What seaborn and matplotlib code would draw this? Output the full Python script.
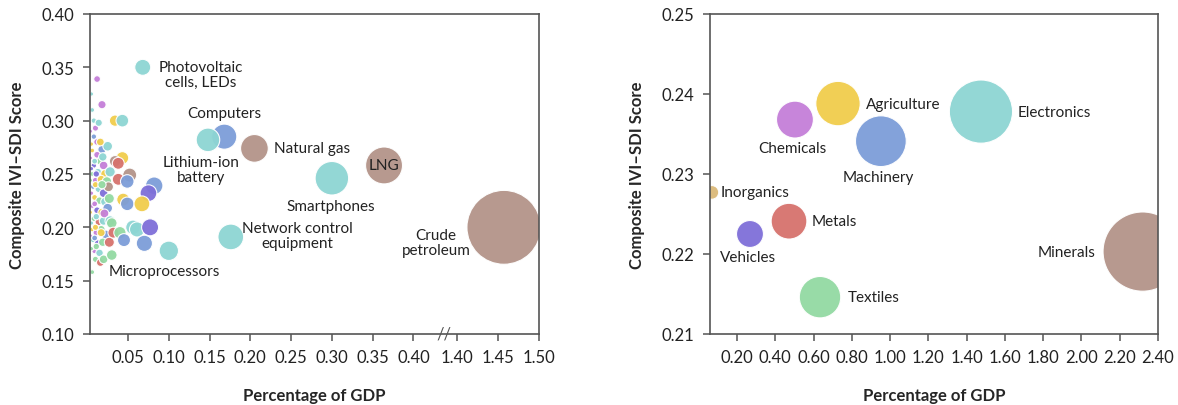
import pandas as pd
import matplotlib.pyplot as plt
import seaborn as sns

# sector colours
palette = {
    "Electronics": "#8dd5d3",
    "Machinery": "#7c9dd8",
    "Minerals": "#b39489",
    "Agriculture": "#f1cd4c",
    "Chemicals": "#c47fd8",
    "Metals": "#d6726d",
    "Vehicles": "#7e6fd8",
    "Textiles": "#93d9a2",
    "Inorganics": "#dbb978",
}

# ---- left panel: products ----
left_x = [
    0.005, 0.006, 0.008, 0.012, 0.018, 0.010, 0.014, 0.008, 0.012, 0.018,
    0.025, 0.006, 0.012, 0.016, 0.008, 0.020, 0.006, 0.013, 0.022, 0.028,
    0.010, 0.017, 0.024, 0.007, 0.014, 0.020, 0.026, 0.009, 0.015, 0.022,
    0.006, 0.012, 0.018, 0.025, 0.008, 0.014, 0.020, 0.006, 0.011, 0.017,
    0.023, 0.007, 0.013, 0.019, 0.009, 0.015, 0.010, 0.016, 0.020, 0.006,
    0.004, 0.005, 0.004, 0.005, 0.004, 0.005, 0.004, 0.005, 0.004, 0.005,
    0.009, 0.011, 0.010, 0.009, 0.011, 0.010, 0.009, 0.011, 0.016, 0.019,
    0.018, 0.021, 0.017, 0.027, 0.028, 0.027,
    0.034, 0.043, 0.043, 0.034, 0.038, 0.052, 0.038, 0.049, 0.082, 0.075,
    0.044, 0.049, 0.067, 0.030, 0.032, 0.040, 0.045, 0.056, 0.061, 0.077,
    0.070, 0.030,
    0.068, 0.168, 0.148, 0.205, 0.176, 0.100, 0.300, 0.364, 1.457,
]
left_y = [
    0.325, 0.310, 0.300, 0.339, 0.315, 0.293, 0.298, 0.285, 0.280, 0.273,
    0.276, 0.272, 0.268, 0.262, 0.258, 0.258, 0.250, 0.252, 0.250, 0.252,
    0.244, 0.245, 0.243, 0.238, 0.236, 0.232, 0.238, 0.228, 0.225, 0.224,
    0.220, 0.216, 0.214, 0.218, 0.208, 0.205, 0.206, 0.198, 0.195, 0.198,
    0.193, 0.188, 0.185, 0.186, 0.178, 0.176, 0.170, 0.167, 0.170, 0.158,
    0.290, 0.278, 0.265, 0.255, 0.244, 0.232, 0.214, 0.204, 0.192, 0.180,
    0.262, 0.250, 0.240, 0.222, 0.210, 0.200, 0.190, 0.182, 0.280, 0.266,
    0.240, 0.213, 0.195, 0.227, 0.206, 0.186,
    0.300, 0.300, 0.265, 0.262, 0.260, 0.249, 0.245, 0.243, 0.239, 0.232,
    0.226, 0.222, 0.222, 0.204, 0.195, 0.195, 0.188, 0.200, 0.198, 0.200,
    0.185, 0.174,
    0.350, 0.285, 0.282, 0.274, 0.191, 0.178, 0.246, 0.258, 0.200,
]
left_sector = [
    "Electronics", "Electronics", "Electronics", "Chemicals", "Chemicals",
    "Chemicals", "Electronics", "Machinery", "Chemicals", "Machinery",
    "Electronics", "Agriculture", "Chemicals", "Textiles", "Vehicles",
    "Chemicals", "Textiles", "Electronics", "Agriculture", "Electronics",
    "Chemicals", "Agriculture", "Textiles", "Machinery", "Electronics",
    "Vehicles", "Minerals", "Agriculture", "Textiles", "Electronics",
    "Chemicals", "Vehicles", "Agriculture", "Machinery", "Textiles",
    "Metals", "Electronics", "Agriculture", "Chemicals", "Textiles",
    "Machinery", "Electronics", "Vehicles", "Textiles", "Chemicals",
    "Electronics", "Textiles", "Metals", "Textiles", "Textiles",
    "Chemicals", "Agriculture", "Chemicals", "Vehicles", "Textiles",
    "Chemicals", "Agriculture", "Electronics", "Chemicals", "Textiles",
    "Electronics", "Vehicles", "Agriculture", "Chemicals", "Electronics",
    "Agriculture", "Machinery", "Textiles", "Agriculture", "Electronics",
    "Textiles", "Chemicals", "Agriculture", "Textiles", "Electronics",
    "Metals",
    "Agriculture", "Electronics", "Agriculture", "Minerals", "Metals",
    "Minerals", "Metals", "Machinery", "Machinery", "Vehicles",
    "Agriculture", "Machinery", "Agriculture", "Textiles", "Metals",
    "Textiles", "Machinery", "Electronics", "Electronics", "Vehicles",
    "Machinery", "Textiles",
    "Electronics", "Machinery", "Electronics", "Minerals", "Electronics",
    "Electronics", "Electronics", "Minerals", "Minerals",
]

# ---- right panel: sectors ----
right_sector = ["Inorganics", "Vehicles", "Metals", "Chemicals", "Agriculture",
                "Machinery", "Textiles", "Electronics", "Minerals"]
right_x = [0.069, 0.268, 0.472, 0.503, 0.728, 0.952, 0.634, 1.475, 2.32]
right_y = [0.2277, 0.2225, 0.2241, 0.2368, 0.2388, 0.2341, 0.2146, 0.2378, 0.2203]

left_ticks = [0.05, 0.10, 0.15, 0.20, 0.25, 0.30, 0.35, 0.40, 1.40, 1.45, 1.50]
right_ticks = [0.20, 0.40, 0.60, 0.80, 1.00, 1.20, 1.40, 1.60, 1.80, 2.00, 2.20, 2.40]

GAP = 0.946  # broken axis: values above 1 are shifted left by this amount


def squash(v):
    return v - GAP if v > 1 else v


left = pd.DataFrame({"gdp": left_x, "score": left_y, "sector": left_sector})
left["xp"] = left["gdp"].apply(squash)
right = pd.DataFrame({"gdp": right_x, "score": right_y, "sector": right_sector})

sns.set_style("ticks")
plt.rcParams["font.family"] = ["Lato", "DejaVu Sans"]

fig = plt.figure(figsize=(11.78, 4.06), dpi=100)
ax1 = fig.add_axes([0.0764, 0.1749, 0.3811, 0.7882])
ax2 = fig.add_axes([0.6027, 0.1749, 0.3803, 0.7882])

lmax = left["gdp"].max()
sns.scatterplot(data=left, x="xp", y="score", hue="sector", palette=palette,
                size="gdp", sizes=(0, 1941 * lmax), size_norm=(0, lmax),
                edgecolor="white", linewidth=0.8, alpha=0.95, legend=False, ax=ax1)

rmax = right["gdp"].max()
sns.scatterplot(data=right, x="gdp", y="score", hue="sector", palette=palette,
                size="gdp", sizes=(0, 1402 * rmax), size_norm=(0, rmax),
                edgecolor="white", linewidth=0.8, alpha=0.95, legend=False, ax=ax2)

# left axes
ax1.set_xlim(0.0033, 1.50 - GAP)
ax1.set_ylim(0.10, 0.40)
ax1.set_xticks([squash(t) for t in left_ticks])
ax1.set_xticklabels([f"{t:.2f}" for t in left_ticks])
ax1.set_yticks([0.10, 0.15, 0.20, 0.25, 0.30, 0.35, 0.40])
ax1.yaxis.set_major_formatter(plt.FormatStrFormatter("%.2f"))
ax1.text(0.437, 0.10, "//", ha="center", va="center", fontsize=12,
         color="#555555", clip_on=False)

# right axes
ax2.set_xlim(0.059, 2.40)
ax2.set_ylim(0.21, 0.25)
ax2.set_xticks(right_ticks)
ax2.set_xticklabels([f"{t:.2f}" for t in right_ticks])
ax2.set_yticks([0.21, 0.22, 0.23, 0.24, 0.25])
ax2.yaxis.set_major_formatter(plt.FormatStrFormatter("%.2f"))

for ax in (ax1, ax2):
    for s in ax.spines.values():
        s.set_color("#555555")
        s.set_linewidth(1.2)
    ax.tick_params(colors="#555555", labelcolor="#222222", labelsize=12, length=5,
                   width=1.1, pad=6)
    ax.set_xlabel("Percentage of GDP", fontsize=12, fontweight="bold", labelpad=16)
    ax.set_ylabel("Composite IVI\u2013SDI Score", fontsize=12, fontweight="bold",
                  labelpad=12)

fs = 11
txt = dict(fontsize=fs, color="#222222", linespacing=1.1)
ax1.text(0.139, 0.343, "Photovoltaic\ncells, LEDs", ha="center", va="center", **txt)
ax1.text(0.168, 0.307, "Computers", ha="center", va="center", **txt)
ax1.text(0.139, 0.254, "Lithium-ion\nbattery", ha="center", va="center", **txt)
ax1.text(0.229, 0.274, "Natural gas", ha="left", va="center", **txt)
ax1.text(0.364, 0.258, "LNG", ha="center", va="center", **txt)
ax1.text(0.299, 0.220, "Smartphones", ha="center", va="center", **txt)
ax1.text(0.258, 0.192, "Network control\nequipment", ha="center", va="center", **txt)
ax1.text(0.428, 0.186, "Crude\npetroleum", ha="center", va="center", **txt)
ax1.text(0.095, 0.159, "Microprocessors", ha="center", va="center", **txt)

ax2.text(0.117, 0.2277, "Inorganics", ha="left", va="center", **txt)
ax2.text(0.26, 0.2196, "Vehicles", ha="center", va="center", **txt)
ax2.text(0.590, 0.2241, "Metals", ha="left", va="center", **txt)
ax2.text(0.492, 0.2332, "Chemicals", ha="center", va="center", **txt)
ax2.text(0.876, 0.2388, "Agriculture", ha="left", va="center", **txt)
ax2.text(0.937, 0.2296, "Machinery", ha="center", va="center", **txt)
ax2.text(0.780, 0.2146, "Textiles", ha="left", va="center", **txt)
ax2.text(1.668, 0.2378, "Electronics", ha="left", va="center", **txt)
ax2.text(2.076, 0.2203, "Minerals", ha="right", va="center", **txt)

plt.savefig("out.png", dpi=100)
